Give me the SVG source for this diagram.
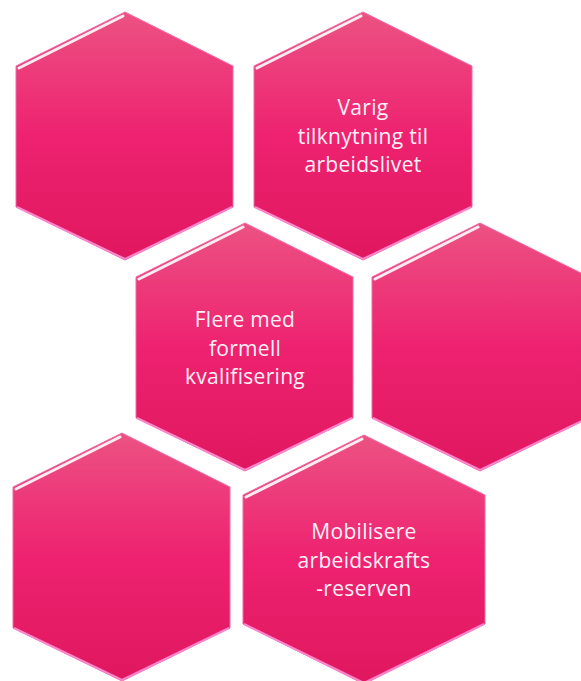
<svg xmlns="http://www.w3.org/2000/svg" width="581" height="681" viewBox="0 0 581 681">
<defs>
<linearGradient id="fill" x1="0" y1="0" x2="0" y2="1">
<stop offset="0" stop-color="#EC5283"/>
<stop offset="0.5" stop-color="#EE2270"/>
<stop offset="1" stop-color="#E0175F"/>
</linearGradient>
<filter id="glow" x="-10%" y="-10%" width="120%" height="120%">
<feGaussianBlur stdDeviation="0.6"/>
</filter>
</defs>
<style>
.hex{fill:url(#fill);stroke:#F06AA8;stroke-width:1}
.hl{fill:none;stroke:#FFFFFF;stroke-width:3;stroke-linecap:round;opacity:0.9;filter:url(#glow)}
.rs{fill:none;stroke:#FFA6D4;stroke-width:3;filter:url(#glow)}
.bg{fill:none;stroke:#FF86CC;stroke-width:2;filter:url(#glow)}
.lbl{font-family:"Open Sans","Noto Sans","Liberation Sans",sans-serif;font-size:21px;letter-spacing:0.3px;fill:#FFF0F6;text-anchor:middle}
</style>

<g id="hex1">
<polygon class="hex" points="125,12 233,66 233,207 125,260 16,207 16,66"/>
<polyline class="bg" points="17,207 125,259 232,207"/>
<line class="hl" x1="19" y1="68" x2="123" y2="16"/>
<line class="rs" x1="229" y1="70" x2="229" y2="204"/>
</g>

<g id="hex2">
<polygon class="hex" points="363,12 472,66 472,207 363,260 254,207 254,66"/>
<polyline class="bg" points="255,207 363,259 471,207"/>
<line class="hl" x1="257" y1="68" x2="361" y2="16"/>
<line class="rs" x1="468" y1="70" x2="468" y2="204"/>
<text class="lbl" x="363" y="115">Varig</text>
<text class="lbl" x="363" y="143.5">tilknytning til</text>
<text class="lbl" x="363" y="172">arbeidslivet</text>
</g>

<g id="hex3">
<polygon class="hex" points="245,223 353,277 353,418 245,471 136,418 136,277"/>
<polyline class="bg" points="137,418 245,470 352,418"/>
<line class="hl" x1="139" y1="279" x2="243" y2="227"/>
<line class="rs" x1="349" y1="281" x2="349" y2="415"/>
<text class="lbl" x="245" y="327">Flere med</text>
<text class="lbl" x="245" y="356">formell</text>
<text class="lbl" x="245" y="384">kvalifisering</text>
</g>

<g id="hex4">
<polygon class="hex" points="480,223 589,277 589,418 480,471 372,418 372,277"/>
<polyline class="bg" points="373,418 480,470 588,418"/>
<line class="hl" x1="375" y1="279" x2="478" y2="227"/>
</g>

<g id="hex5">
<polygon class="hex" points="122,433 230,487 230,628 122,681 13,628 13,487"/>
<polyline class="bg" points="14,628 122,680 229,628"/>
<line class="hl" x1="16" y1="489" x2="120" y2="437"/>
<line class="rs" x1="226" y1="491" x2="226" y2="625"/>
</g>

<g id="hex6">
<polygon class="hex" points="364,435 485,495 485,624 364,684 243,624 243,495"/>
<polyline class="bg" points="244,624 364,683 484,624"/>
<line class="hl" x1="246" y1="497" x2="362" y2="439"/>
<line class="rs" x1="481" y1="499" x2="481" y2="621"/>
<text class="lbl" x="364" y="539">Mobilisere</text>
<text class="lbl" x="364" y="568">arbeidskrafts</text>
<text class="lbl" x="364" y="596">-reserven</text>
</g>
</svg>
